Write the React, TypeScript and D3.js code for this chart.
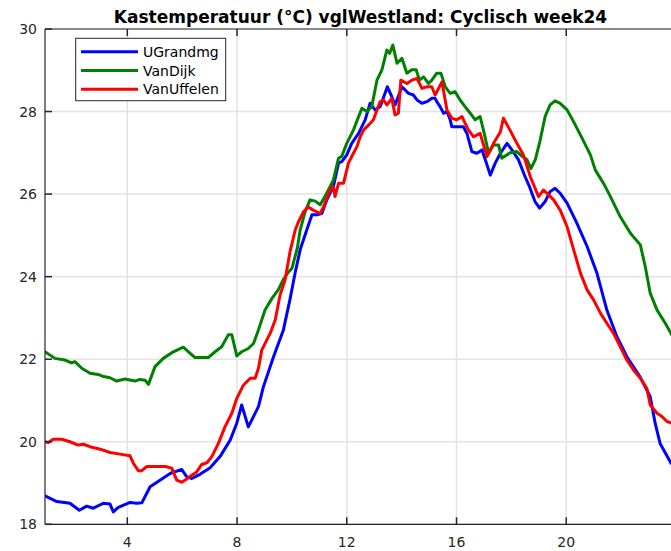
import React from "react";
import * as d3 from "d3";

const title = "Kastemperatuur (°C) vglWestland: Cyclisch week24";
const seriesNames = ["UGrandmg", "VanDijk", "VanUffelen"];
const seriesColors = ["#0000ff", "#008000", "#ff0000"];
const xTicks = [4, 8, 12, 16, 20, 24];
const xTickLabels = ["4", "8", "12", "16", "20", ""];
const yTicks = [18, 20, 22, 24, 26, 28, 30];

const blueH = [1.0,1.43,1.91,2.25,2.52,2.76,3.13,3.37,3.49,3.67,4.10,4.34,4.53,4.83,5.19,5.56,5.98,6.17,6.35,6.65,7.02,7.38,7.75,7.99,8.17,8.41,8.78,8.96,9.33,9.69,9.93,10.12,10.3,10.54,10.73,10.91,11.09,11.27,11.51,11.70,11.82,12.0,12.18,12.43,12.67,12.85,13.03,13.22,13.48,13.64,13.76,14.01,14.25,14.43,14.56,14.74,14.92,15.10,15.22,15.28,15.40,15.53,15.65,15.77,15.83,16.01,16.25,16.38,16.56,16.74,16.93,17.05,17.23,17.41,17.60,17.84,18.02,18.26,18.50,18.66,18.86,19.03,19.23,19.41,19.59,19.78,20.03,20.39,20.76,21.12,21.48,21.85,22.21,22.70,23.06,23.24,23.42,23.82,24.0];
const blueV = [18.69,18.55,18.51,18.34,18.44,18.39,18.51,18.49,18.30,18.41,18.53,18.51,18.52,18.91,19.07,19.23,19.33,19.15,19.11,19.21,19.37,19.64,20.04,20.45,20.89,20.36,20.85,21.33,22.06,22.71,23.45,24.1,24.65,25.13,25.5,25.5,25.53,25.86,26.18,26.75,26.79,26.95,27.23,27.47,27.80,28.20,28.04,28.12,28.60,28.36,28.16,28.60,28.44,28.40,28.28,28.20,28.24,28.32,28.32,28.24,28.12,27.96,28.0,27.80,27.63,27.63,27.63,27.47,27.03,26.99,27.07,26.83,26.46,26.75,26.99,27.23,27.07,26.83,26.42,26.18,25.82,25.66,25.82,26.06,26.14,26.02,25.78,25.29,24.73,24.08,23.19,22.54,22.06,21.56,21.09,20.45,19.96,19.48,19.4];

const greenH = [1.0,1.36,1.73,1.97,2.09,2.34,2.64,2.94,3.13,3.37,3.61,3.92,4.28,4.46,4.65,4.77,5.01,5.31,5.68,6.04,6.23,6.47,6.71,6.95,7.20,7.44,7.68,7.81,7.99,8.17,8.41,8.60,8.78,9.02,9.28,9.50,9.68,9.86,10.0,10.2,10.30,10.48,10.66,10.85,11.03,11.27,11.51,11.70,11.82,12.0,12.24,12.55,12.73,12.91,13.10,13.28,13.46,13.56,13.68,13.83,14.01,14.19,14.37,14.53,14.65,14.80,14.98,15.10,15.28,15.43,15.59,15.77,15.95,16.13,16.31,16.50,16.68,16.86,17.01,17.17,17.35,17.53,17.65,17.95,18.20,18.38,18.57,18.71,18.87,19.05,19.23,19.41,19.59,19.78,20.03,20.27,20.58,20.88,21.06,21.36,21.61,21.97,22.34,22.70,22.88,23.06,23.31,23.61,23.82,24.0];
const greenV = [22.18,22.02,21.98,21.91,21.94,21.78,21.66,21.63,21.58,21.55,21.47,21.52,21.47,21.51,21.49,21.39,21.82,22.02,22.18,22.29,22.18,22.04,22.04,22.04,22.18,22.30,22.59,22.59,22.08,22.18,22.26,22.38,22.71,23.19,23.48,23.68,23.92,24.1,24.2,24.7,25.13,25.57,25.86,25.83,25.74,26.02,26.34,26.87,26.92,27.23,27.55,28.08,28.00,28.12,28.76,29.01,29.49,29.41,29.61,29.17,29.29,28.93,29.01,29.01,28.76,28.84,28.68,28.76,28.93,28.93,28.60,28.44,28.48,28.28,28.12,27.96,27.80,27.88,27.47,26.99,27.19,27.19,26.87,27.0,27.03,26.92,26.83,26.62,26.83,27.31,27.88,28.16,28.26,28.20,28.04,27.75,27.35,26.95,26.58,26.26,25.94,25.45,25.05,24.77,24.24,23.60,23.19,22.87,22.62,22.45];

const redH = [1.0,1.12,1.30,1.61,1.91,2.21,2.40,2.64,3.01,3.37,3.73,4.10,4.22,4.40,4.53,4.71,5.01,5.38,5.62,5.80,5.98,6.17,6.35,6.53,6.71,6.90,7.08,7.32,7.56,7.81,7.99,8.23,8.48,8.66,8.78,8.90,9.21,9.39,9.57,9.75,9.93,10.12,10.24,10.42,10.60,10.78,11.03,11.15,11.39,11.51,11.57,11.70,11.88,12.06,12.18,12.37,12.49,12.61,12.79,12.97,13.10,13.22,13.34,13.46,13.64,13.76,13.88,13.97,14.19,14.37,14.56,14.74,14.92,15.10,15.22,15.47,15.65,15.83,16.01,16.20,16.31,16.44,16.62,16.86,17.11,17.35,17.60,17.71,17.95,18.20,18.44,18.69,18.99,19.17,19.36,19.54,19.78,20.03,20.27,20.52,20.76,21.0,21.25,21.48,21.73,21.97,22.21,22.45,22.70,22.94,23.06,23.31,23.49,23.67,23.82,24.0];
const redV = [20.0,19.98,20.06,20.06,20.0,19.92,19.94,19.88,19.82,19.74,19.70,19.66,19.48,19.30,19.30,19.40,19.40,19.40,19.36,19.07,19.02,19.10,19.19,19.27,19.45,19.49,19.64,19.96,20.36,20.69,21.05,21.37,21.54,21.54,21.78,22.22,22.63,22.95,23.56,23.92,24.6,25.13,25.33,25.57,25.69,25.61,25.53,25.69,26.10,26.18,25.94,26.26,26.26,26.75,26.91,27.15,27.39,27.55,27.67,27.80,28.04,28.24,28.28,28.16,28.32,27.92,27.96,28.76,28.68,28.76,28.80,28.56,28.60,28.60,28.40,28.72,28.04,27.84,27.80,27.88,27.72,27.55,27.39,27.47,26.91,27.23,27.51,27.84,27.55,27.23,26.95,26.42,25.94,26.10,25.98,25.86,25.61,25.21,24.65,24.08,23.68,23.43,23.11,22.87,22.62,22.30,21.98,21.74,21.54,21.29,20.89,20.69,20.61,20.49,20.46,20.42];

const seriesH = [blueH, greenH, redH];
const seriesV = [blueV, greenV, redV];

export default function App() {
  const W = 671, H = 551;
  const left = 45, right = 676, top = 29, bottom = 524.3;
  const x = d3.scaleLinear().domain([1, 24]).range([left, right]);
  const y = d3.scaleLinear().domain([18, 30]).range([bottom, top]);
  const font = "'DejaVu Sans', sans-serif";
  const axisColor = "#262626";
  const line = d3.line<[number, number]>().x(d => x(d[0])).y(d => y(d[1])).curve(d3.curveLinear);

  return (
    <svg width={W} height={H} style={{ position: "fixed", left: 0, top: 0, background: "#fff" }} fontFamily={font}>
      <rect x={0} y={0} width={W} height={H} fill="#fff" />
      <defs>
        <clipPath id="plotclip">
          <rect x={left} y={top} width={right - left} height={bottom - top} />
        </clipPath>
      </defs>
      {/* grid */}
      {xTicks.map(t => (
        <line key={"gx" + t} x1={x(t)} x2={x(t)} y1={top} y2={bottom} stroke="#e3e3e3" strokeWidth={1.5} />
      ))}
      {yTicks.map(t => (
        <line key={"gy" + t} x1={left} x2={right} y1={y(t)} y2={y(t)} stroke="#e3e3e3" strokeWidth={1.5} />
      ))}
      {/* series */}
      <g clipPath="url(#plotclip)">
        {seriesH.map((hs, i) => (
          <path key={i} d={line(hs.map((h, j) => [h, seriesV[i][j]] as [number, number])) || ""}
            fill="none" stroke={seriesColors[i]} strokeWidth={3} strokeLinejoin="round" strokeLinecap="round" />
        ))}
      </g>
      {/* axes box */}
      <line x1={left} x2={right} y1={bottom} y2={bottom} stroke={axisColor} strokeWidth={1.2} />
      <line x1={left} x2={right} y1={top} y2={top} stroke={axisColor} strokeWidth={1.2} />
      <line x1={left} x2={left} y1={top} y2={bottom} stroke={axisColor} strokeWidth={1.2} />
      <line x1={right} x2={right} y1={top} y2={bottom} stroke={axisColor} strokeWidth={1.2} />
      {/* ticks */}
      {xTicks.map((t, i) => (
        <g key={"tx" + t}>
          <line x1={x(t)} x2={x(t)} y1={bottom} y2={bottom - 7} stroke={axisColor} strokeWidth={1.5} />
          <line x1={x(t)} x2={x(t)} y1={top} y2={top + 7} stroke={axisColor} strokeWidth={1.5} />
          {xTickLabels[i] ? (
            <text x={x(t)} y={bottom + 23} textAnchor="middle" fontSize={14} fill={axisColor}>{xTickLabels[i]}</text>
          ) : null}
        </g>
      ))}
      {yTicks.map(t => (
        <g key={"ty" + t}>
          <line x1={left} x2={left + 7} y1={y(t)} y2={y(t)} stroke={axisColor} strokeWidth={1.5} />
          <text x={left - 8} y={y(t) + 5} textAnchor="end" fontSize={14} fill={axisColor}>{t}</text>
        </g>
      ))}
      {/* title */}
      <text x={(left + right) / 2} y={22.5} textAnchor="middle" fontSize={17} fontWeight="bold" fill="#000">{title}</text>
      {/* legend */}
      <rect x={75.7} y={38.3} width={150} height={62.4} fill="#fff" stroke={axisColor} strokeWidth={1} />
      {seriesNames.map((n, i) => (
        <g key={n}>
          <line x1={81} x2={138} y1={51.7 + i * 18.8} y2={51.7 + i * 18.8} stroke={seriesColors[i]} strokeWidth={3} />
          <text x={143} y={51.7 + i * 18.8 + 5} fontSize={14} fill="#000">{n}</text>
        </g>
      ))}
    </svg>
  );
}
